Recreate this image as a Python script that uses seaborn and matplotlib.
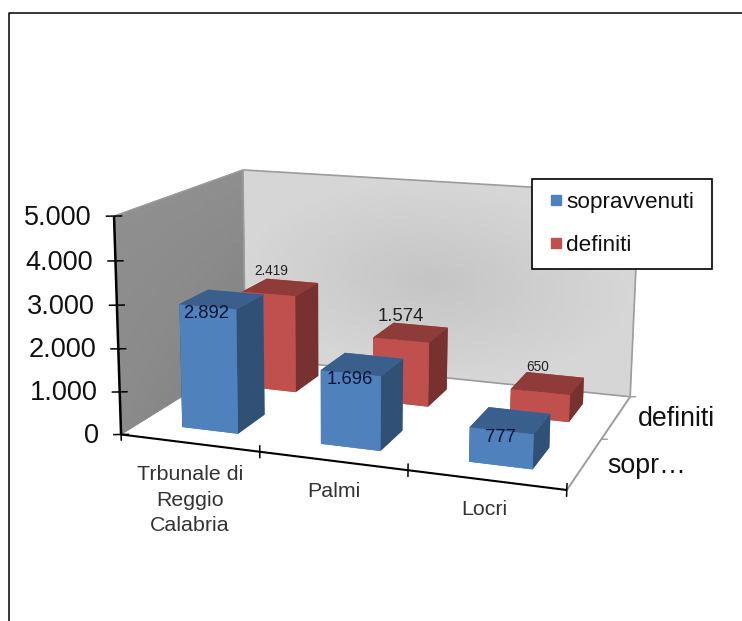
import numpy as np
import matplotlib
matplotlib.use("Agg")
import matplotlib.pyplot as plt
import seaborn as sns
from matplotlib.legend_handler import HandlerPatch
from matplotlib.lines import Line2D
from matplotlib.patches import Patch, Rectangle
from mpl_toolkits.mplot3d import proj3d
from mpl_toolkits.mplot3d.art3d import Line3DCollection, Poly3DCollection

categories = ["Trbunale di\nReggio\nCalabria", "Palmi", "Locri"]
series_names = ["sopravvenuti", "definiti"]
sopravvenuti = [2892, 1696, 777]
definiti = [2419, 1574, 650]
value_ticks = [0, 1000, 2000, 3000, 4000, 5000]
value_tick_labels = ["0", "1.000", "2.000", "3.000", "4.000", "5.000"]
label_sizes_sopravvenuti = [13.3, 13.3, 13.3]
label_sizes_definiti = [9.8, 13.4, 9.8]

W, H = 742, 621
sns.set_theme(style="white")
plt.rcParams["font.family"] = ["Liberation Sans", "DejaVu Sans"]
palette = sns.color_palette(["#4F81BD", "#C0504D"])

fig = plt.figure(figsize=(W / 100, H / 100), dpi=100, facecolor="white")
side = W / H
ax = fig.add_axes([0, (1 - side) / 2, 1, side], projection="3d", computed_zorder=False)
ax.set_axis_off()
ax.patch.set_visible(False)

# camera calibration: chart-space anchors -> reference pixels
anchors = [
    ((0, 0, 0), (122, 435)), ((1, 0, 0), (260, 452)), ((2, 0, 0), (407, 471)), ((3, 0, 0), (566, 490)),
    ((3, 1, 0), (603, 438)), ((3, 2, 0), (630, 397)), ((0, 2, 0), (244, 357)),
    ((0, 0, 5000), (113, 215)), ((0, 0, 4000), (115, 262)), ((0, 0, 3000), (117, 305)),
    ((0, 0, 2000), (119, 348)), ((0, 0, 1000), (120, 392)),
    ((0, 2, 5000), (244, 170)), ((3, 2, 5000), (639, 194)),
]

# solve the camera with the axes' own 2D transform
ax.apply_aspect()
inv = ax.transData.inverted()
rows_a = []
for (x, y, z), (px, py) in anchors:
    u, v = inv.transform((px, H - py))
    X = [x, y, z / 1000, 1]
    rows_a.append(X + [0, 0, 0, 0] + [-u * c for c in X])
    rows_a.append([0, 0, 0, 0] + X + [-v * c for c in X])
_, _, vt = np.linalg.svd(np.array(rows_a))
P = vt[-1].reshape(3, 4)
P = P @ np.diag([1, 1, 1 / 1000, 1])
if P[2, 3] < 0:
    P = -P
P = P / P[2, 3]
M = np.vstack([P[0], P[1], P[2] - np.array([0, 0, 0, 1]), P[2]])
ax.get_proj = lambda: M


def shade(hex_color, factor):
    r, g, b = matplotlib.colors.to_rgb(hex_color)
    return (r * factor, g * factor, b * factor, 1)


def add_bar(x, y, value, color, zorder):
    dx, dy = 0.41, 0.44
    top, side_c, front = shade(color, 0.74), shade(color, 0.62), shade(color, 1.0)
    faces = [front, top, front, front, side_c, side_c]
    col = ax.bar3d(x + 0.31, y + 0.28, 0, dx, dy, value,
                   color=faces, shade=False, zsort="average", linewidth=0)
    col.set_zorder(zorder)
    col.set_clip_on(False)


def wall(corner, u, v, fn, n=60, zorder=0):
    corner, u, v = map(np.asarray, (corner, u, v))
    polys, cols = [], []
    for i in range(n):
        for j in range(n):
            p = corner + u * i / n + v * j / n
            polys.append([p, p + u / n, p + u / n + v / n, p + v / n])
            g = fn((i + .5) / n, (j + .5) / n)
            cols.append((g, g, g, 1))
    c = Poly3DCollection(polys, facecolors=cols, edgecolors=cols, linewidths=0.6, zorder=zorder)
    c.set_clip_on(False)
    ax.add_collection3d(c)


wall((0, 2, 0), (3, 0, 0), (0, 0, 5000),
     lambda a, b: 0.77 + 0.07 * min(1, np.hypot((a - .5) / .5, (b - .5) / .5)))
wall((0, 0, 0), (0, 2, 0), (0, 0, 5000),
     lambda a, b: 0.54 - 0.04 * a * (1 - b) + 0.02 * b)


def seg(p, q, color, lw, z=1):
    lc = Line3DCollection([[p, q]], colors=[color], linewidths=lw, zorder=z)
    lc.set_clip_on(False)
    ax.add_collection3d(lc)


def label(x, y, z, s, **kw):
    u, v, _ = proj3d.proj_transform(x, y, z, M)
    ax.text2D(u, v, s, transform=ax.transData, **kw)


GR = "#9c9c9c"
seg((0, 2, 0), (3, 2, 0), GR, 1.2)
seg((3, 2, 0), (3, 2, 5000), GR, 1.2)
seg((0, 2, 5000), (3, 2, 5000), GR, 1.2)
seg((0, 2, 0), (0, 2, 5000), GR, 1.2)
seg((0, 0, 5000), (0, 2, 5000), GR, 1.0)
seg((3, 0, 0), (3, 2, 0), GR, 1.4)

for i, v in enumerate(definiti):
    add_bar(i, 1, v, palette[1], 2 + i * 0.1)
for i, v in enumerate(sopravvenuti):
    add_bar(i, 0, v, palette[0], 3 + i * 0.1)

# axes drawn in black
seg((0, 0, 0), (0, 0, 5000), "black", 1.8, 4)
seg((0, 0, 0), (3, 0, 0), "black", 1.5, 4)
for t, lab in zip(value_ticks, value_tick_labels):
    seg((-0.048, -0.021, t), (0.048, 0.021, t), "black", 1.1, 4)
    label(-0.165, 0, t - 90, lab, ha="right", va="center", fontsize=19.5, color="#111111", zorder=6)
for i in range(4):
    seg((i, 0, -150), (i, 0, 150), "black", 1.1, 4)
cat_dx = [0.55, 0.55, 0.52]
cat_dz = [-390, -345, -300]
for i, lab in enumerate(categories):
    label(i + cat_dx[i], -0.1, cat_dz[i], lab, ha="center", va="top", fontsize=15.4, color="#333333",
          zorder=6, linespacing=1.42)
seg((3, 1, 0), (3.04, 1.017, 0), GR, 1.0)
seg((3, 2, 0), (3.04, 2.017, 0), GR, 1.0)
label(3.15, 1.5, 0, "definiti", ha="left", va="center", fontsize=19.3, color="#111111", zorder=6)
label(3.14, 0.5, 0, "sopr…", ha="left", va="center", fontsize=19.3, color="#111111", zorder=6)

for i, v in enumerate(sopravvenuti):
    label(i + 0.515, 0.26, v - 130, f"{v:,}".replace(",", "."), ha="center", va="center",
          fontsize=label_sizes_sopravvenuti[i], color="#111133", zorder=7)
for i, v in enumerate(definiti):
    label(i + 0.44, 1.5, v + 385, f"{v:,}".replace(",", "."), ha="center", va="center",
          fontsize=label_sizes_definiti[i], color="#222222", zorder=7)


def legend_square(legend, orig_handle, xdescent, ydescent, width, height, fontsize):
    return Rectangle((width - 7.2, height / 2 - 3.6), 7.2, 7.2)


leg = ax.legend(handles=[Patch(color=palette[k], label=series_names[k]) for k in range(2)],
                handler_map={Patch: HandlerPatch(patch_func=legend_square)},
                loc="upper left", mode="expand",
                bbox_to_anchor=(532 / W, 1 - 267 / H, 180 / W, 88 / H), bbox_transform=fig.transFigure,
                fontsize=16.2, frameon=True, fancybox=False, edgecolor="black", framealpha=1,
                handlelength=0.72, handleheight=0.7, handletextpad=0.22, labelspacing=0.96,
                borderpad=0.58, borderaxespad=0, labelcolor="#111111")
leg.get_frame().set_linewidth(1.2)
leg.set_zorder(10)

fig.add_artist(Line2D([8.5 / W, 8.5 / W, 1], [0, 1 - 12.5 / H, 1 - 12.5 / H],
                      transform=fig.transFigure, color="black", lw=1.1))

fig.savefig("out.png", dpi=100, facecolor="white")
